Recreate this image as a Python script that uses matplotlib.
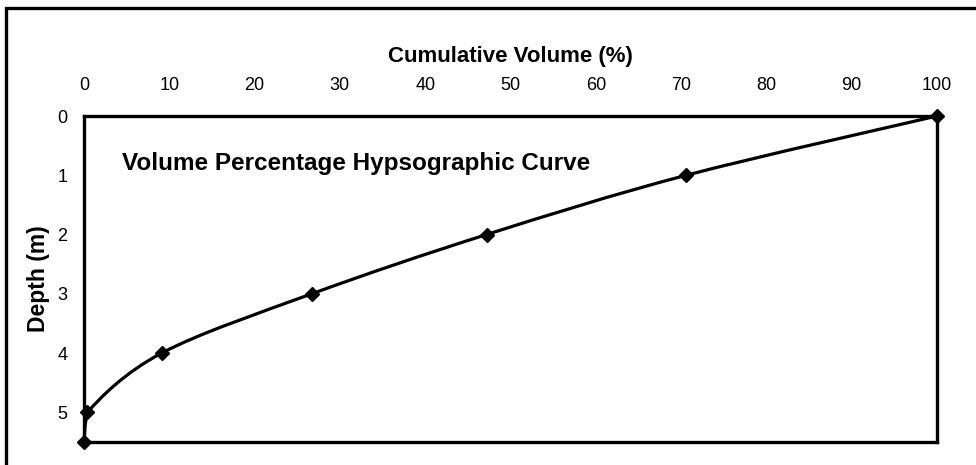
import numpy as np
import matplotlib
matplotlib.use('Agg')
import matplotlib.pyplot as plt
from matplotlib.path import Path
from matplotlib.patches import PathPatch, Rectangle

plt.rcParams['font.family'] = ['Liberation Sans', 'DejaVu Sans']

# cumulative volume (%) at each depth (m)
volume = [100, 70.6, 47.2, 26.7, 9.1, 0.4, 0]
depth = [0, 1, 2, 3, 4, 5, 5.5]
xticks = list(range(0, 101, 10))
yticks = [0, 1, 2, 3, 4, 5]


def smooth_path(xs, ys):
    # Catmull-Rom style bezier through the points (like a spreadsheet "smoothed line"),
    # control points kept inside each segment's box so nothing overshoots
    pts = np.column_stack([xs, ys]).astype(float)
    n = len(pts)
    verts = [pts[0]]
    codes = [Path.MOVETO]
    for i in range(n - 1):
        p0 = pts[i - 1] if i > 0 else pts[i]
        p1 = pts[i]
        p2 = pts[i + 1]
        p3 = pts[i + 2] if i + 2 < n else pts[i + 1]
        lo = np.minimum(p1, p2)
        hi = np.maximum(p1, p2)
        c1 = np.clip(p1 + (p2 - p0) / 6, lo, hi)
        c2 = np.clip(p2 - (p3 - p1) / 6, lo, hi)
        verts += [c1, c2, p2]
        codes += [Path.CURVE4] * 3
    return Path(verts, codes)


fig = plt.figure(figsize=(9.76, 4.65), dpi=100)
ax = fig.add_axes([84 / 976, 1 - 442 / 465, (937 - 84) / 976, (442 - 116) / 465])

curve = PathPatch(smooth_path(volume, depth), facecolor='none', edgecolor='black',
                  lw=2.3, clip_on=False, zorder=3)
ax.add_patch(curve)
ax.plot(volume, depth, ls='none', marker='D', color='black', markersize=7.5,
        clip_on=False, zorder=4)

ax.set_xlim(0, 100)
ax.set_ylim(5.5, 0)
ax.xaxis.tick_top()
ax.xaxis.set_label_position('top')
ax.set_xticks(xticks)
ax.set_yticks(yticks)
ax.tick_params(axis='x', length=0, pad=16, labelsize=13)
ax.tick_params(axis='y', length=0, pad=12, labelsize=13)
for s in ax.spines.values():
    s.set_linewidth(2.4)

ax.set_xlabel('Cumulative Volume (%)', fontsize=16, fontweight='bold', labelpad=11)
ax.set_ylabel('Depth (m)', fontsize=16.5, fontweight='bold', labelpad=5)

ax.text(0.045, 0.855, 'Volume Percentage Hypsographic Curve', transform=ax.transAxes,
        fontsize=17.5, fontweight='bold', va='center', ha='left')

# outer frame, running off the right and bottom edges
frame = Rectangle((6 / 976, -0.2), 1.2, 1.2 - 8 / 465, transform=fig.transFigure,
                  fill=False, lw=2.4, edgecolor='black', clip_on=False)
fig.patches.append(frame)

fig.savefig('out.png', dpi=100)
